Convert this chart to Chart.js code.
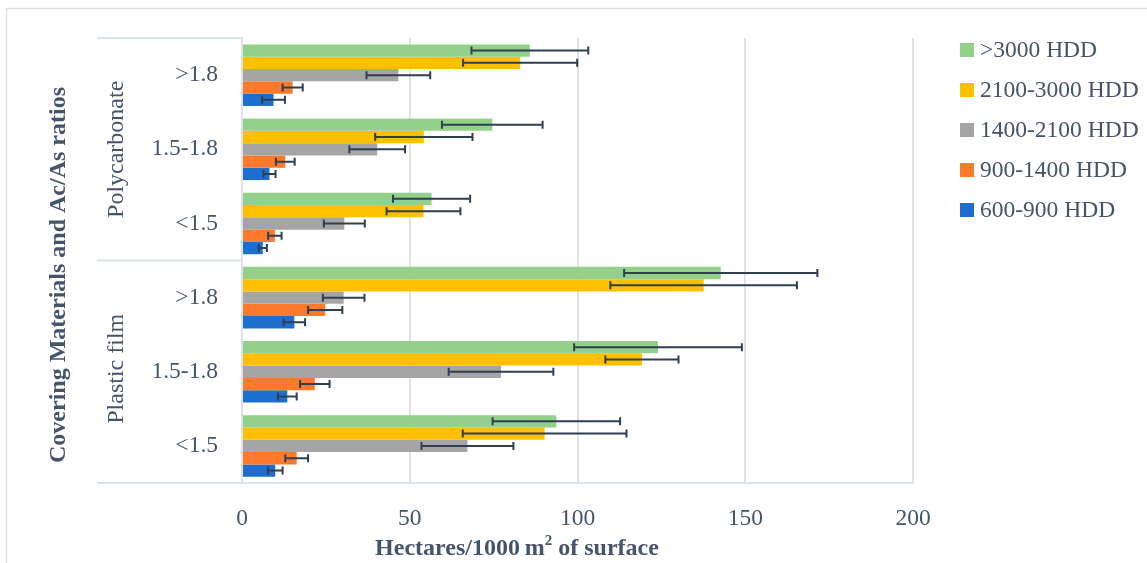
<!DOCTYPE html>
<html>
<head>
<meta charset="utf-8">
<script src="https://cdn.jsdelivr.net/npm/chart.js@4.4.0/dist/chart.umd.min.js"></script>
<style>
html,body{margin:0;padding:0;background:#fff;}
canvas{display:block;}
</style>
</head>
<body>
<canvas id="bar-chart" width="1147" height="563"></canvas>
<script>
var ratioLabels = ['>1.8', '1.5-1.8', '<1.5', '>1.8', '1.5-1.8', '<1.5'];
var materialGroups = ['Polycarbonate', 'Plastic film'];
var xTicks = [0, 50, 100, 150, 200];

var seriesNames = ['>3000 HDD', '2100-3000 HDD', '1400-2100 HDD', '900-1400 HDD', '600-900 HDD'];
var hdd3000 = [85.8, 74.6, 56.5, 142.7, 124.0, 93.7];
var hdd2100 = [82.9, 54.2, 54.1, 137.6, 119.2, 90.2];
var hdd1400 = [46.6, 40.3, 30.5, 30.3, 77.2, 67.2];
var hdd900 = [15.1, 12.9, 9.8, 24.8, 21.7, 16.3];
var hdd600 = [9.4, 8.2, 6.2, 15.6, 13.5, 9.9];

// error bar half widths
var err3000 = [17.4, 15.0, 11.5, 28.8, 25.0, 19.0];
var err2100 = [17.0, 14.5, 11.0, 27.8, 10.9, 24.4];
var err1400 = [9.5, 8.3, 6.1, 6.2, 15.6, 13.7];
var err900 = [3.0, 2.8, 2.0, 5.1, 4.4, 3.4];
var err600 = [3.4, 1.8, 1.2, 3.2, 2.8, 2.2];

var colors = ['#93d089', '#ffc000', '#a5a5a5', '#fd7a2c', '#1e6ed0'];
var textColor = '#44546a';
var lineColor = '#dce2e9';
var serif = "'Liberation Serif', 'DejaVu Serif', serif";

var values = [hdd3000, hdd2100, hdd1400, hdd900, hdd600];
var errors = [err3000, err2100, err1400, err900, err600];

var datasets = [];
for (var i = 0; i < values.length; i++) {
	datasets.push({
		label: seriesNames[i],
		data: values[i],
		errors: errors[i],
		backgroundColor: colors[i],
		borderWidth: 0,
		categoryPercentage: 0.83,
		barPercentage: 1.0
	});
}

var extras = {
	id: 'extras',
	afterDatasetsDraw: function(chart) {
		var ctx = chart.ctx;
		var xs = chart.scales.x;
		ctx.save();
		ctx.strokeStyle = '#2f3e52';
		ctx.lineWidth = 2;
		chart.data.datasets.forEach(function(ds, di) {
			var meta = chart.getDatasetMeta(di);
			meta.data.forEach(function(bar, j) {
				var v = ds.data[j], e = ds.errors[j];
				var x1 = xs.getPixelForValue(v - e);
				var x2 = xs.getPixelForValue(v + e);
				var y = bar.y;
				ctx.beginPath();
				ctx.moveTo(x1, y); ctx.lineTo(x2, y);
				ctx.moveTo(x1, y - 4); ctx.lineTo(x1, y + 4);
				ctx.moveTo(x2, y - 4); ctx.lineTo(x2, y + 4);
				ctx.stroke();
			});
		});
		ctx.restore();
	},
	afterDraw: function(chart) {
		var ctx = chart.ctx;
		var area = chart.chartArea;
		var ys = chart.scales.y;
		var frameLeft = 97;
		ctx.save();

		// outer border (top and left only visible)
		ctx.strokeStyle = lineColor;
		ctx.lineWidth = 1.5;
		ctx.beginPath();
		ctx.moveTo(6.5, chart.height); ctx.lineTo(6.5, 8.5); ctx.lineTo(chart.width, 8.5);
		ctx.stroke();

		// category table lines
		var mid = (ys.getPixelForValue(2) + ys.getPixelForValue(3)) / 2;
		ctx.lineWidth = 2;
		ctx.beginPath();
		ctx.moveTo(frameLeft, area.top); ctx.lineTo(area.left, area.top);
		ctx.moveTo(frameLeft, mid); ctx.lineTo(area.left, mid);
		ctx.moveTo(frameLeft, area.bottom); ctx.lineTo(area.right, area.bottom);
		ctx.stroke();

		ctx.fillStyle = textColor;
		ctx.textAlign = 'center';
		ctx.textBaseline = 'middle';

		// group labels
		ctx.font = '24px ' + serif;
		var groupCentres = [(area.top + mid) / 2, (mid + area.bottom) / 2 - 3];
		for (var g = 0; g < materialGroups.length; g++) {
			ctx.save();
			ctx.translate(117, groupCentres[g]);
			ctx.rotate(-Math.PI / 2);
			ctx.fillText(materialGroups[g], 0, 0);
			ctx.restore();
		}

		// y axis title
		ctx.font = 'bold 24px ' + serif;
		ctx.save();
		ctx.translate(59, 275);
		ctx.rotate(-Math.PI / 2);
		ctx.fillText('Covering Materials and Ac/As ratios', 0, 0);
		ctx.restore();

		// x axis title with superscript
		var t1 = 'Hectares/1000\u2009m', t2 = '2', t3 = ' of surface';
		ctx.font = 'bold 24px ' + serif;
		var w1 = ctx.measureText(t1).width, w3 = ctx.measureText(t3).width;
		ctx.font = 'bold 15px ' + serif;
		var w2 = ctx.measureText(t2).width;
		var x0 = 517 - (w1 + w2 + w3) / 2;
		var ty = 549;
		ctx.textAlign = 'left';
		ctx.font = 'bold 24px ' + serif;
		ctx.fillText(t1, x0, ty);
		ctx.font = 'bold 15px ' + serif;
		ctx.fillText(t2, x0 + w1, ty - 8);
		ctx.font = 'bold 24px ' + serif;
		ctx.fillText(t3, x0 + w1 + w2, ty);

		// legend
		ctx.font = '23.5px ' + serif;
		for (var k = 0; k < seriesNames.length; k++) {
			var ly = 50 + k * 40;
			ctx.fillStyle = colors[k];
			ctx.fillRect(960, ly - 7, 14, 14);
			ctx.fillStyle = textColor;
			ctx.fillText(seriesNames[k], 980, ly + 1);
		}
		ctx.restore();
	}
};

new Chart(document.getElementById('bar-chart'), {
	type: 'bar',
	data: {
		labels: ratioLabels,
		datasets: datasets
	},
	options: {
		indexAxis: 'y',
		responsive: false,
		animation: false,
		devicePixelRatio: 1,
		layout: {padding: {top: 36, right: 234, bottom: 0, left: 0}},
		plugins: {
			legend: {display: false},
			tooltip: {enabled: false}
		},
		scales: {
			x: {
				min: 0,
				max: 200,
				afterFit: function(s) { s.height = 80; },
				afterBuildTicks: function(s) {
					s.ticks = xTicks.map(function(v) { return {value: v}; });
				},
				grid: {color: lineColor, lineWidth: 2, drawTicks: false},
				border: {display: true, color: lineColor, width: 2},
				ticks: {color: textColor, padding: 22, font: {family: serif, size: 23.5}}
			},
			y: {
				afterFit: function(s) { s.width = 242; },
				grid: {display: false, drawTicks: false},
				border: {display: true, color: lineColor, width: 2},
				ticks: {color: textColor, padding: 24, font: {family: serif, size: 23.5}}
			}
		}
	},
	plugins: [extras]
});
</script>
</body>
</html>
